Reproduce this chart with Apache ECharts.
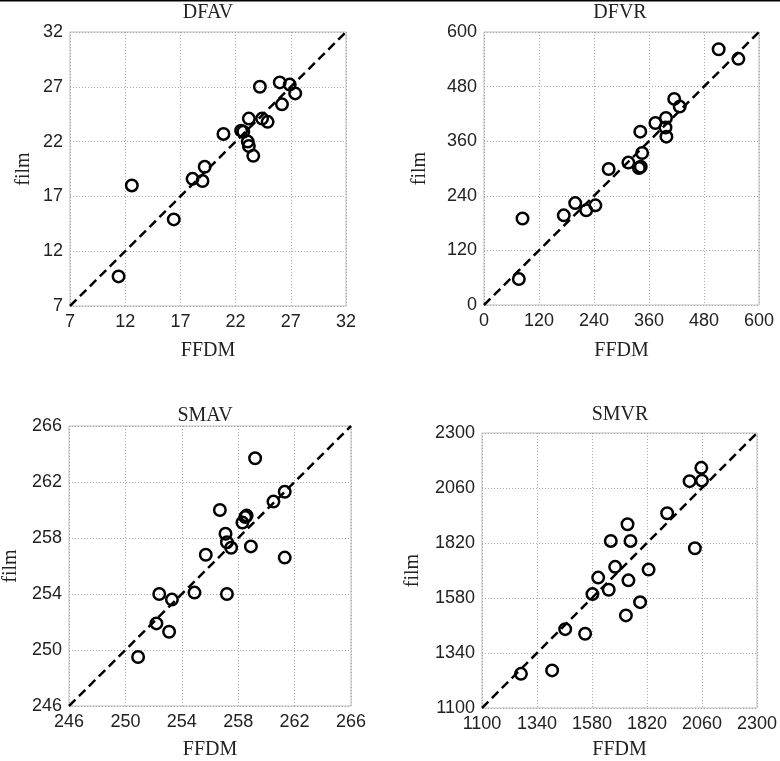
<!DOCTYPE html>
<html>
<head>
<meta charset="utf-8">
<script type="text/javascript" src="https://cdn.jsdelivr.net/npm/echarts@6/dist/echarts.min.js"></script>
<style>
  html, body { margin: 0; padding: 0; background: #fff; }
  #container { width: 780px; height: 761px; }
</style>
</head>
<body>
<div id="container"></div>
<script type="text/javascript">
// panel titles and axis ranges [min, max, step]
var titles = ['DFAV', 'DFVR', 'SMAV', 'SMVR'];
var dfavRange = [7, 32, 5];
var dfvrRange = [0, 600, 120];
var smavRange = [246, 266, 4];
var smvrRange = [1100, 2300, 240];

// DFAV
var dfavFfdm = [11.4, 12.6, 16.4, 18.1, 19.0, 19.2, 20.9, 22.5, 22.7, 23.1, 23.2, 23.6, 23.2, 24.2, 24.4, 24.9, 26.0, 26.2, 26.9, 27.4];
var dfavFilm = [9.7, 18.0, 14.9, 18.6, 18.4, 19.7, 22.7, 23.0, 22.9, 22.0, 21.6, 20.7, 24.1, 27.0, 24.1, 23.8, 27.4, 25.4, 27.2, 26.4];
// DFVR
var dfvrFfdm = [76, 84, 174, 199, 223, 243, 272, 315, 338, 342, 345, 341, 374, 397, 396, 398, 415, 427, 512, 555];
var dfvrFilm = [57, 190, 197, 224, 208, 219, 299, 313, 301, 304, 334, 381, 400, 411, 390, 370, 453, 436, 562, 541];
// SMAV
var smavFfdm = [250.9, 252.2, 253.1, 252.4, 253.3, 254.9, 255.7, 257.2, 256.7, 257.1, 257.2, 257.5, 258.3, 258.5, 258.6, 258.9, 259.2, 260.5, 261.3, 261.3];
var smavFilm = [249.5, 251.9, 251.3, 254.0, 253.6, 254.1, 256.8, 254.0, 260.0, 258.3, 257.7, 257.3, 259.1, 259.5, 259.6, 257.4, 263.7, 260.6, 261.3, 256.6];
// SMVR
var smvrFfdm = [1270, 1406, 1463, 1550, 1582, 1607, 1653, 1662, 1681, 1728, 1735, 1739, 1748, 1790, 1827, 1908, 2006, 2057, 2060, 2029];
var smvrFilm = [1249, 1264, 1444, 1424, 1597, 1669, 1616, 1829, 1716, 1504, 1902, 1657, 1829, 1562, 1704, 1950, 2090, 2148, 2092, 1797];

window.onload = function () {
    var myChart = echarts.init(document.getElementById('container'));

    var panels = [
        { x: dfavFfdm, y: dfavFilm, r: dfavRange, grid: { left: 70, top: 32, width: 276, height: 274 }, xGap: 35, yGap: 36, title: [208, 3] },
        { x: dfvrFfdm, y: dfvrFilm, r: dfvrRange, grid: { left: 484, top: 32, width: 275, height: 273 }, xGap: 36, yGap: 54, title: [620, 3] },
        { x: smavFfdm, y: smavFilm, r: smavRange, grid: { left: 69, top: 426, width: 282, height: 282 }, xGap: 34, yGap: 48, title: [205, 406] },
        { x: smvrFfdm, y: smvrFilm, r: smvrRange, grid: { left: 482, top: 433, width: 277, height: 276 }, xGap: 32, yGap: 59, title: [620, 405] }
    ];

    var serif = '"Liberation Serif", "Times New Roman", serif';
    var sans = '"Liberation Sans", Arial, sans-serif';

    var grids = [], xAxes = [], yAxes = [], series = [], titleList = [];

    panels.forEach(function (p, i) {
        grids.push({
            left: p.grid.left, top: p.grid.top, width: p.grid.width, height: p.grid.height,
            show: true, borderColor: '#bdbdbd', borderWidth: 1, containLabel: false
        });
        titleList.push({
            text: titles[i], left: p.title[0], top: p.title[1], textAlign: 'center', padding: 0,
            textStyle: { fontFamily: serif, fontSize: 20, fontWeight: 'normal', color: '#222' }
        });
        var axisCommon = {
            type: 'value', gridIndex: i, min: p.r[0], max: p.r[1], interval: p.r[2],
            axisLine: { show: false }, axisTick: { show: false },
            splitLine: { show: true, lineStyle: { color: '#a8a8a8', type: [1, 2], width: 1 } },
            nameLocation: 'middle',
            nameTextStyle: { fontFamily: serif, fontSize: 20, color: '#222' }
        };
        var fmt = function (v) { return String(v); };
        xAxes.push(Object.assign({}, axisCommon, {
            name: 'FFDM', nameGap: p.xGap,
            axisLabel: { fontFamily: sans, fontSize: 18, color: '#222', margin: 7, formatter: fmt }
        }));
        yAxes.push(Object.assign({}, axisCommon, {
            name: 'film', nameGap: p.yGap, nameRotate: 90,
            axisLabel: { fontFamily: sans, fontSize: 18, color: '#222', margin: 7, formatter: fmt }
        }));

        // y = x reference line
        series.push({
            type: 'line', xAxisIndex: i, yAxisIndex: i, symbol: 'none', silent: true,
            data: [[p.r[0], p.r[0]], [p.r[1], p.r[1]]],
            lineStyle: { color: '#000', width: 2.5, type: [9, 5] },
            z: 2
        });
        var pts = [];
        for (var k = 0; k < p.x.length; k++) pts.push([p.x[k], p.y[k]]);
        series.push({
            type: 'scatter', xAxisIndex: i, yAxisIndex: i, symbol: 'circle', symbolSize: 11.5,
            data: pts,
            itemStyle: { color: 'rgba(0,0,0,0)', borderColor: '#000', borderWidth: 2.5, opacity: 1 },
            z: 3
        });
    });

    var option = {
        animation: false,
        backgroundColor: '#fff',
        title: titleList,
        grid: grids,
        xAxis: xAxes,
        yAxis: yAxes,
        series: series,
        graphic: [{
            type: 'rect', left: 0, top: 0, shape: { width: 780, height: 1.5 },
            style: { fill: '#000' }
        }]
    };

    myChart.setOption(option);
};
</script>
</body>
</html>
